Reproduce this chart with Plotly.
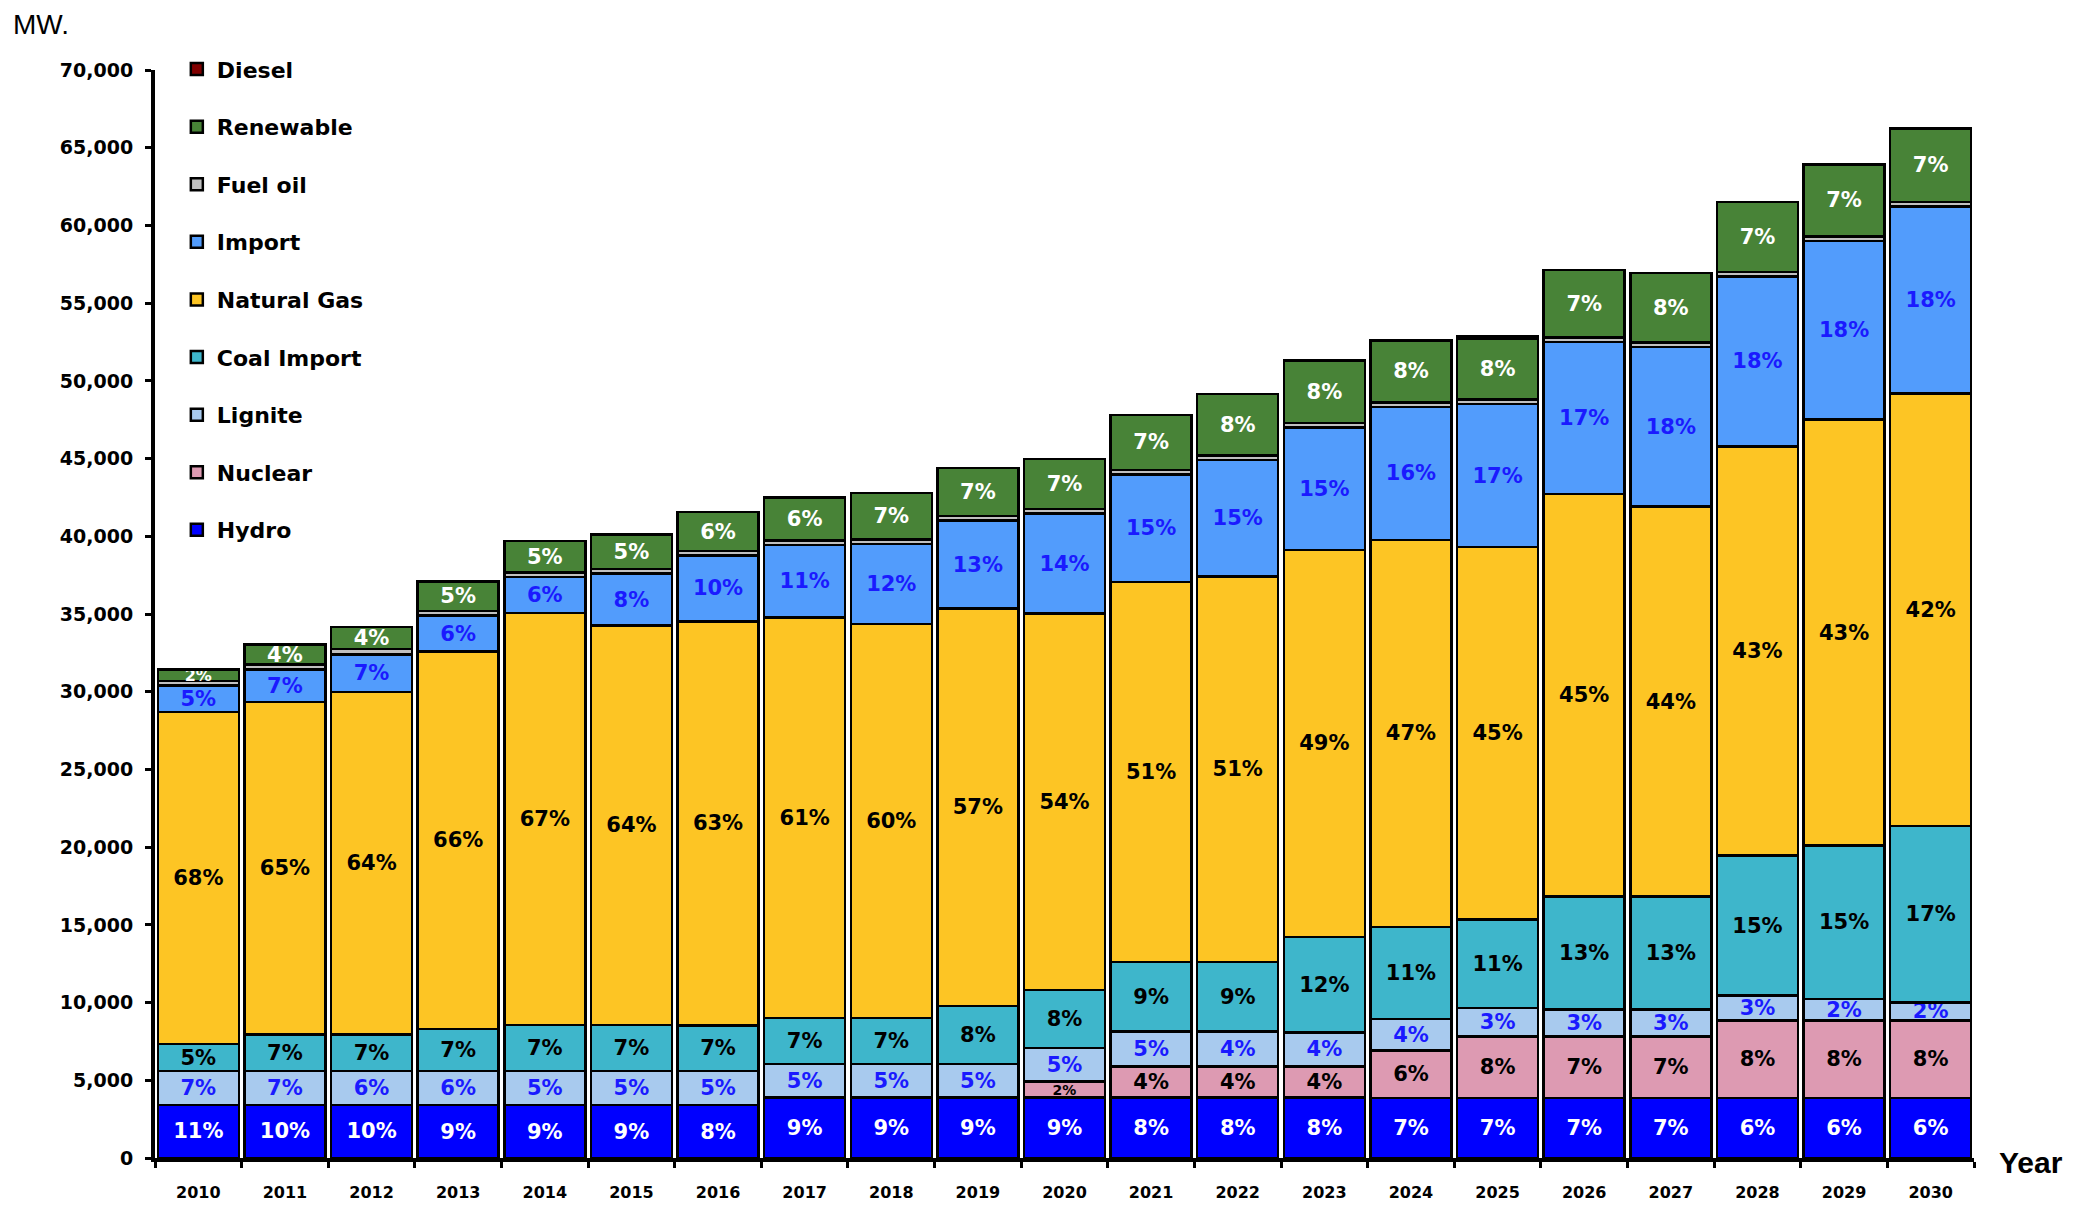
import plotly.graph_objects as go

years = [str(y) for y in range(2010, 2031)]

hydro = [3420, 3420, 3420, 3400, 3400, 3400, 3400, 3880, 3880, 3880, 3880,
         3880, 3880, 3880, 3860, 3860, 3860, 3860, 3860, 3860, 3860]
nuclear = [0, 0, 0, 0, 0, 0, 0, 0, 0, 0, 1030,
           2020, 2020, 2020, 3050, 3960, 3960, 3960, 5000, 5000, 5000]
lignite = [2170, 2170, 2170, 2190, 2190, 2190, 2190, 2180, 2180, 2180, 2170,
           2240, 2240, 2170, 2040, 1820, 1730, 1730, 1590, 1370, 1140]
coal_import = [1740, 2360, 2360, 2710, 2955, 2955, 2950, 2940, 2940, 3720, 3730,
               4470, 4470, 6150, 5910, 5720, 7270, 7270, 9000, 9860, 11360]
natural_gas = [21360, 21390, 22030, 24290, 26530, 25710, 25990, 25780, 25350, 25560, 24220,
               24440, 24810, 24910, 24910, 23960, 25910, 25090, 26320, 27410, 27820]
imports = [1700, 2090, 2410, 2310, 2290, 3350, 4230, 4660, 5150, 5660, 6430,
           6930, 7480, 7870, 8550, 9180, 9770, 10270, 10960, 11500, 12050]
fuel_oil = [300, 330, 350, 300, 300, 300, 300, 300, 300, 300, 300,
            300, 300, 300, 300, 300, 300, 300, 280, 280, 280]
renewable = [730, 1265, 1440, 1890, 2040, 2200, 2490, 2740, 3000, 3100, 3210,
             3520, 3970, 4000, 3970, 3930, 4340, 4470, 4490, 4650, 4740]
diesel = [0, 0, 0, 0, 0, 0, 0, 0, 0, 0, 0,
          0, 0, 0, 0, 150, 0, 0, 0, 0, 0]

hydro_lbl = ["11%", "10%", "10%", "9%", "9%", "9%", "8%", "9%", "9%", "9%", "9%",
             "8%", "8%", "8%", "7%", "7%", "7%", "7%", "6%", "6%", "6%"]
nuclear_lbl = ["", "", "", "", "", "", "", "", "", "", "2%",
               "4%", "4%", "4%", "6%", "8%", "7%", "7%", "8%", "8%", "8%"]
lignite_lbl = ["7%", "7%", "6%", "6%", "5%", "5%", "5%", "5%", "5%", "5%", "5%",
               "5%", "4%", "4%", "4%", "3%", "3%", "3%", "3%", "2%", "2%"]
coal_lbl = ["5%", "7%", "7%", "7%", "7%", "7%", "7%", "7%", "7%", "8%", "8%",
            "9%", "9%", "12%", "11%", "11%", "13%", "13%", "15%", "15%", "17%"]
gas_lbl = ["68%", "65%", "64%", "66%", "67%", "64%", "63%", "61%", "60%", "57%", "54%",
           "51%", "51%", "49%", "47%", "45%", "45%", "44%", "43%", "43%", "42%"]
import_lbl = ["5%", "7%", "7%", "6%", "6%", "8%", "10%", "11%", "12%", "13%", "14%",
              "15%", "15%", "15%", "16%", "17%", "17%", "18%", "18%", "18%", "18%"]
renew_lbl = ["2%", "4%", "4%", "5%", "5%", "5%", "6%", "6%", "7%", "7%", "7%",
             "7%", "8%", "8%", "8%", "8%", "7%", "8%", "7%", "7%", "7%"]

y_ticks = list(range(0, 70001, 5000))

series = [
    ("Hydro", hydro, "#0000FF", hydro_lbl, "white"),
    ("Nuclear", nuclear, "#DD9AB2", nuclear_lbl, "black"),
    ("Lignite", lignite, "#A8CAEE", lignite_lbl, "#1A1AFF"),
    ("Coal Import", coal_import, "#3EB6CB", coal_lbl, "black"),
    ("Natural Gas", natural_gas, "#FDC524", gas_lbl, "black"),
    ("Import", imports, "#529CFC", import_lbl, "#1A1AFF"),
    ("Fuel oil", fuel_oil, "#C0C0C0", None, "black"),
    ("Renewable", renewable, "#488337", renew_lbl, "white"),
    ("Diesel", diesel, "#800000", None, "white"),
]

fig = go.Figure()
n = len(series)
for i, (name, vals, color, lbl, tcol) in enumerate(series):
    sizes = 21
    if lbl is not None:
        sizes = []
        for j, l in enumerate(lbl):
            if name == "Nuclear" and l == "2%":
                sizes.append(14)
            elif name == "Renewable" and j == 0:
                sizes.append(16)
            else:
                sizes.append(21)
    fig.add_trace(go.Bar(
        x=years, y=vals, name=name,
        marker=dict(color=color, line=dict(color="black", width=2.5)),
        text=lbl if lbl is not None else None,
        textposition="inside" if lbl is not None else "none",
        insidetextanchor="middle",
        textangle=0,
        constraintext="none",
        textfont=dict(family="DejaVu Sans", size=sizes, color=tcol, weight="bold"),
        legendgroup=name,
        legendrank=n - i,
        hoverinfo="skip",
    ))

fig.update_layout(
    barmode="stack",
    bargap=0.065,
    width=2080, height=1205,
    margin=dict(l=147, r=114, t=62, b=55),
    plot_bgcolor="white",
    paper_bgcolor="white",
    showlegend=True,
    legend=dict(
        x=0.012, y=1.02, xanchor="left", yanchor="top",
        traceorder="grouped",
        tracegroupgap=26,
        font=dict(family="DejaVu Sans", size=22, color="black", weight="bold"),
        bgcolor="rgba(0,0,0,0)",
        itemwidth=30,
    ),
    xaxis=dict(
        type="category",
        range=[-0.5, 20.5],
        showline=True, linecolor="black", linewidth=4,
        ticks="outside", tickson="boundaries", ticklen=6, tickwidth=3, tickcolor="black",
        ticklabelstandoff=17,
        tickfont=dict(family="DejaVu Sans", size=16, color="black", weight="bold"),
        showgrid=False, zeroline=False,
    ),
    yaxis=dict(
        range=[0, 70000],
        tickvals=y_ticks,
        tickformat=",",
        showline=True, linecolor="black", linewidth=4,
        ticks="outside", ticklen=6, tickwidth=3, tickcolor="black",
        ticklabelstandoff=8,
        tickfont=dict(family="DejaVu Sans", size=19, color="black", weight="bold"),
        showgrid=False, zeroline=False,
    ),
    annotations=[
        dict(text="MW.", xref="paper", yref="paper", x=-0.079, y=1.042,
             xanchor="left", yanchor="middle", showarrow=False,
             font=dict(family="Liberation Sans", size=28, color="black")),
        dict(text="Year", xref="paper", yref="paper", x=1.0127, y=-0.004,
             xanchor="left", yanchor="middle", showarrow=False,
             font=dict(family="Liberation Sans", size=30, color="black", weight="bold")),
    ],
)

fig.write_html("out.html")
